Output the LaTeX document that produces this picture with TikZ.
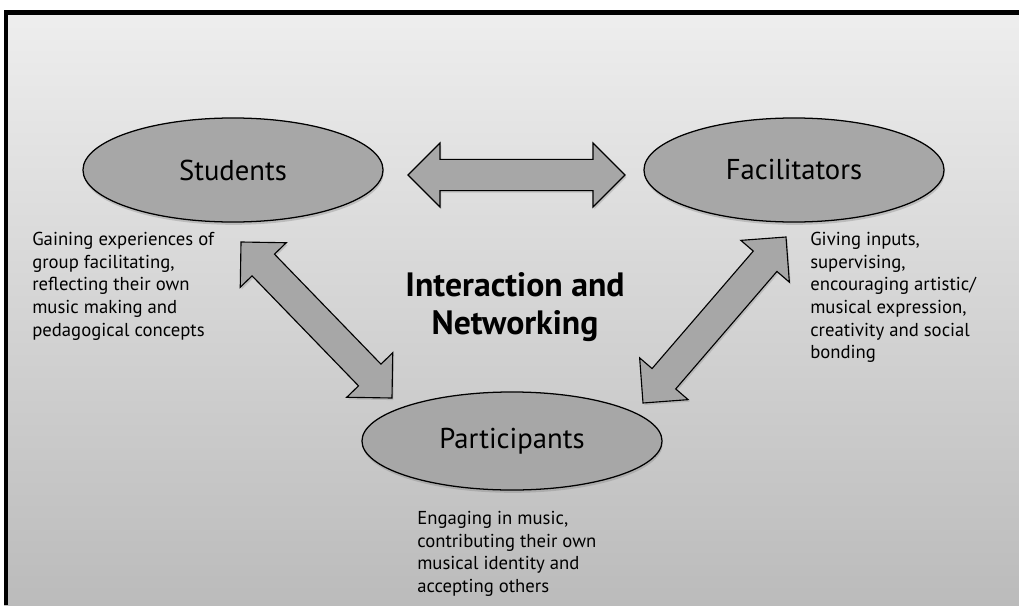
\documentclass[tikz,border=0pt]{standalone}
\usepackage{fontspec}
\setmainfont{PT Sans}
\usetikzlibrary{shapes.geometric,calc,shadows}
\definecolor{bgtop}{RGB}{238,238,238}
\definecolor{bgbottom}{RGB}{187,187,187}
\definecolor{blobgray}{RGB}{167,167,167}
\begin{document}
\begin{tikzpicture}[x=0.025cm, y=-0.025cm,
    blob/.style={ellipse, draw=black, line width=0.9pt, fill=blobgray, inner sep=0pt,
      minimum width=7.5cm, minimum height=2.6cm, font=\fontsize{20.4}{24}\selectfont,
      drop shadow={shadow xshift=0.5pt, shadow yshift=-2pt, opacity=0.35}},
    note/.style={align=left, anchor=north west, inner sep=0pt, font=\fontsize{13.3}{16.1}\selectfont},
    barrow/.style={draw=black, line width=0.8pt, fill=blobgray, line join=miter,
      drop shadow={shadow xshift=1pt, shadow yshift=-1.5pt, opacity=0.3}}]
  \useasboundingbox (0,0) rectangle (1019,605);
  \fill[white] (0,0) rectangle (1019,605);
  \shade[top color=bgtop, bottom color=bgbottom] (4,10) rectangle (1019,605);
  \fill[black] (4,10) rectangle (1019,15);
  \fill[black] (4,10) rectangle (8,605);

  \node[blob] (students) at (233,170) {Students};
  \node[blob] (facilitators) at (794,170) {Facilitators};
  \node[blob, minimum height=2.45cm] (participants) at (512,441) {Participants};

  \node[note] (studentsnote) at (32,232) {Gaining experiences of\\group facilitating,\\reflecting their own\\music making and\\pedagogical concepts};
  \node[note] (facilitatorsnote) at (810,232) {Giving inputs,\\supervising,\\encouraging artistic/\\musical expression,\\creativity and social\\bonding};
  \node[note] (participantsnote) at (417,511) {Engaging in music,\\contributing their own\\musical identity and\\accepting others};
  \node[font=\bfseries\fontsize{24}{27}\selectfont, align=center, inner sep=0pt] (interaction) at (515,307) {Interaction and\\Networking};

  \def\headlen{0.8cm}
  \def\headwidth{0.8cm}
  \def\shaftwidth{0.39cm}
  \def\blockarrow#1#2{%
    \coordinate (h1) at ($(#1)!\headlen!(#2)$);
    \coordinate (h2) at ($(#2)!\headlen!(#1)$);
    \draw[barrow] (#1) -- ($(h1)!\headwidth!90:(#2)$) -- ($(h1)!\shaftwidth!90:(#2)$)
      -- ($(h2)!\shaftwidth!-90:(#1)$) -- ($(h2)!\headwidth!-90:(#1)$) -- (#2)
      -- ($(h2)!\headwidth!90:(#1)$) -- ($(h2)!\shaftwidth!90:(#1)$)
      -- ($(h1)!\shaftwidth!-90:(#2)$) -- ($(h1)!\headwidth!-90:(#2)$) -- cycle;}

  \coordinate (sf1) at (408,175);
  \coordinate (sf2) at (625,175);
  \coordinate (sp1) at (241,242);
  \coordinate (sp2) at (392,398);
  \coordinate (fp1) at (786,237);
  \coordinate (fp2) at (643,403);
  \blockarrow{sf1}{sf2}
  \blockarrow{sp1}{sp2}
  \blockarrow{fp1}{fp2}
\end{tikzpicture}
\end{document}
